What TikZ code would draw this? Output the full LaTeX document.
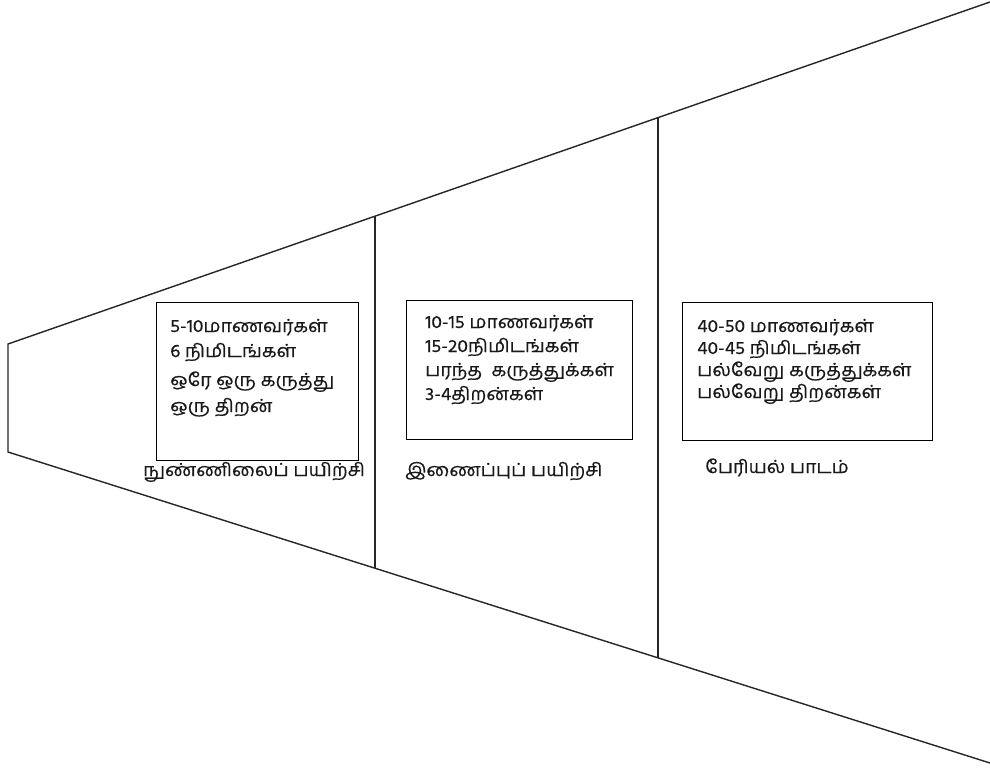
\documentclass[tikz,border=0pt]{standalone}
\usepackage{fontspec}
\newfontfamily\tamil[Script=Tamil,FakeStretch=1.07,FakeBold=0.4]{Hind Madurai}
\usetikzlibrary{calc}
\begin{document}
\begin{tikzpicture}[x=1pt,y=-1pt,
  edge/.style={draw=black!85, line width=1.4pt},
  frame/.style={draw=black, line width=1.3pt, rectangle, inner sep=0pt, anchor=north west},
  txt/.style={anchor=base west, inner sep=0pt, font=\tamil\fontsize{18}{20}\selectfont, text=black!90}]
\useasboundingbox (0,0) rectangle (990,771);
\fill[white] (0,0) rectangle (990,771);
\coordinate (A) at (8,344);
\coordinate (B) at (990,2);
\coordinate (C) at (8,452);
\coordinate (D) at (990,763);
\coordinate (T1) at ($(A)!0.3737!(B)$);
\coordinate (B1) at ($(C)!0.3737!(D)$);
\coordinate (T2) at ($(A)!0.6619!(B)$);
\coordinate (B2) at ($(C)!0.6619!(D)$);
\draw[edge] (B) -- (A) -- (C) -- (D);
\draw[edge] (T1) -- (B1);
\draw[edge] (T2) -- (B2);
\node[frame, minimum width=202pt, minimum height=158pt] (box1) at (156,302) {};
\node[frame, minimum width=226pt, minimum height=139pt] (box2) at (406,300) {};
\node[frame, minimum width=250pt, minimum height=138pt] (box3) at (682,302) {};
\node[txt] (a1) at (170,332) {5-10மாணவர்கள்};
\node[txt] (a2) at (170,357) {6 நிமிடங்கள்};
\node[txt] (a3) at (170,386) {ஒரே ஒரு கருத்து};
\node[txt] (a4) at (170,412) {ஒரு திறன்};
\node[txt] (b1) at (425,328) {10-15 மாணவர்கள்};
\node[txt] (b2) at (425,352) {15-20நிமிடங்கள்};
\node[txt] (b3) at (425,376) {பரந்த\ \ கருத்துக்கள்};
\node[txt] (b4) at (425,400) {3-4திறன்கள்};
\node[txt] (c1) at (697,332) {40-50 மாணவர்கள்};
\node[txt] (c2) at (697,354) {40-45 நிமிடங்கள்};
\node[txt] (c3) at (697,376) {பல்வேறு கருத்துக்கள்};
\node[txt] (c4) at (697,398) {பல்வேறு திறன்கள்};
\node[txt] (l1) at (143,476) {நுண்ணிலைப் பயிற்சி};
\node[txt] (l2) at (405,476) {இணைப்புப் பயிற்சி};
\node[txt] (l3) at (705,473) {பேரியல் பாடம்};
\end{tikzpicture}
\end{document}
